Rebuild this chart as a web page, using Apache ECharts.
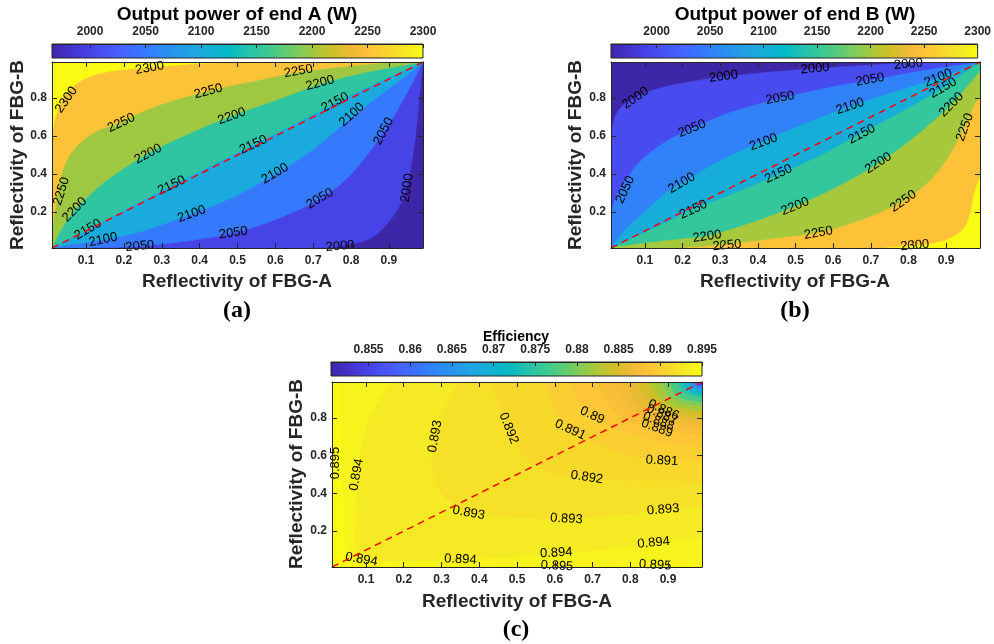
<!DOCTYPE html>
<html><head><meta charset="utf-8">
<script src="https://cdn.jsdelivr.net/npm/echarts@6/dist/echarts.min.js"></script>
<style>html,body{margin:0;padding:0;background:#fff}#chart{width:994px;height:644px}</style>
</head><body><div id="chart"></div><script>
// ---------- axis data ----------
const xTicks = [0.1, 0.2, 0.3, 0.4, 0.5, 0.6, 0.7, 0.8, 0.9];
const yTicks = [0.2, 0.4, 0.6, 0.8];
const axisRange = [0.01, 0.99];
const diagonal = [[0.01, 0.01], [0.99, 0.99]];

// ---------- colour bar data ----------
const climA = [1965.7, 2300];
const climB = [1957.3, 2300];
const climC = [0.8505, 0.895];
const cbarTicksAB = [2000, 2050, 2100, 2150, 2200, 2250, 2300];
const cbarTicksC = [0.855, 0.86, 0.865, 0.87, 0.875, 0.88, 0.885, 0.89, 0.895];

// ---------- (a) contour lines ----------
const A2000 = [[0.70,0.01],[0.771,0.02],[0.85,0.06],[0.90,0.15],[0.935,0.26],[0.955,0.40],[0.97,0.60],[0.98,0.80],[0.99,0.99]];
const A2050 = [[0.12,0.01],[0.242,0.02],[0.36,0.045],[0.489,0.09],[0.60,0.16],[0.718,0.27],[0.80,0.40],[0.886,0.62],[0.94,0.80],[0.99,0.99]];
const A2100 = [[0.01,0.01],[0.06,0.028],[0.145,0.055],[0.25,0.10],[0.379,0.19],[0.49,0.28],[0.60,0.40],[0.70,0.53],[0.802,0.70],[0.88,0.82],[0.94,0.91],[0.99,0.99]];
const A2150 = [[0.01,0.01],[0.105,0.11],[0.20,0.21],[0.326,0.34],[0.44,0.455],[0.542,0.556],[0.65,0.665],[0.758,0.775],[0.87,0.885],[0.99,0.99]];
const A2200 = [[0.01,0.01],[0.026,0.08],[0.048,0.15],[0.07,0.212],[0.11,0.291],[0.163,0.379],[0.264,0.51],[0.365,0.607],[0.485,0.707],[0.604,0.791],[0.718,0.874],[0.842,0.937],[0.99,0.99]];
const A2250 = [[0.01,0.115],[0.02,0.238],[0.03,0.361],[0.048,0.467],[0.079,0.554],[0.127,0.625],[0.193,0.677],[0.295,0.765],[0.423,0.839],[0.56,0.897],[0.661,0.937],[0.798,0.97],[0.912,0.99]];
const A2300 = [[0.01,0.60],[0.014,0.66],[0.022,0.72],[0.039,0.80],[0.066,0.862],[0.105,0.909],[0.163,0.941],[0.268,0.962],[0.365,0.978],[0.471,0.99]];

// ---------- (b) contour lines ----------
const B2000 = [[0.01,0.589],[0.017,0.677],[0.035,0.748],[0.075,0.804],[0.141,0.853],[0.229,0.888],[0.309,0.911],[0.433,0.937],[0.552,0.955],[0.68,0.972],[0.80,0.983],[0.90,0.99]];
const B2050 = [[0.01,0.194],[0.026,0.291],[0.048,0.361],[0.088,0.467],[0.15,0.563],[0.225,0.639],[0.335,0.73],[0.459,0.797],[0.583,0.853],[0.698,0.892],[0.83,0.941],[0.99,0.99]];
const B2100 = [[0.01,0.01],[0.03,0.06],[0.06,0.13],[0.10,0.20],[0.15,0.29],[0.198,0.352],[0.30,0.47],[0.415,0.572],[0.53,0.67],[0.645,0.755],[0.76,0.83],[0.879,0.905],[0.99,0.99]];
const B2150 = [[0.01,0.01],[0.10,0.09],[0.229,0.212],[0.34,0.30],[0.455,0.396],[0.57,0.50],[0.676,0.615],[0.79,0.735],[0.892,0.853],[0.99,0.99]];
const B2200 = [[0.01,0.01],[0.10,0.035],[0.20,0.058],[0.265,0.072],[0.38,0.14],[0.499,0.229],[0.61,0.33],[0.72,0.455],[0.82,0.60],[0.914,0.765],[0.96,0.87],[0.99,0.94]];
const B2250 = [[0.20,0.01],[0.30,0.025],[0.43,0.055],[0.561,0.09],[0.68,0.16],[0.786,0.255],[0.86,0.37],[0.91,0.50],[0.95,0.65],[0.975,0.76],[0.99,0.80]];
const B2300 = [[0.74,0.01],[0.817,0.022],[0.88,0.04],[0.92,0.07],[0.95,0.12],[0.965,0.20],[0.975,0.30],[0.99,0.38]];

// ---------- (c) contour lines ----------
const C0895 = [[0.03,0.99],[0.035,0.70],[0.04,0.40],[0.045,0.15],[0.05,0.07],[0.07,0.035],[0.10,0.028],[0.30,0.02],[0.60,0.015],[0.86,0.022],[0.99,0.03]];
const C0894 = [[0.164,0.99],[0.14,0.90],[0.10,0.75],[0.08,0.50],[0.074,0.30],[0.072,0.15],[0.076,0.08],[0.09,0.052],[0.15,0.043],[0.35,0.05],[0.604,0.08],[0.862,0.135],[0.99,0.17]];
const C0893 = [[0.345,0.99],[0.31,0.85],[0.283,0.702],[0.274,0.55],[0.29,0.43],[0.33,0.345],[0.372,0.295],[0.50,0.272],[0.631,0.267],[0.76,0.285],[0.887,0.316],[0.99,0.335]];
const C0892 = [[0.429,0.99],[0.455,0.86],[0.478,0.745],[0.505,0.64],[0.54,0.56],[0.60,0.505],[0.685,0.483],[0.80,0.47],[0.99,0.464]];
const C0891 = [[0.57,0.99],[0.60,0.85],[0.641,0.737],[0.69,0.672],[0.738,0.64],[0.80,0.60],[0.884,0.574],[0.99,0.568]];
const C0890 = [[0.641,0.99],[0.665,0.88],[0.699,0.814],[0.74,0.76],[0.782,0.728],[0.88,0.675],[0.99,0.649]];
const C0889 = [[0.712,0.99],[0.749,0.85],[0.793,0.792],[0.851,0.748],[0.99,0.71]];
const C0888 = [[0.757,0.99],[0.788,0.871],[0.825,0.822],[0.874,0.784],[0.99,0.752]];
const C0887 = [[0.791,0.99],[0.818,0.885],[0.849,0.841],[0.89,0.807],[0.99,0.779]];
const C0886 = [[0.818,0.99],[0.841,0.895],[0.868,0.856],[0.904,0.825],[0.99,0.80]];
const C0885 = [[0.839,0.99],[0.859,0.905],[0.883,0.871],[0.915,0.844],[0.99,0.821]];
const C0884 = [[0.858,0.99],[0.876,0.914],[0.897,0.882],[0.924,0.858],[0.99,0.837]];
const C0882 = [[0.884,0.99],[0.898,0.927],[0.915,0.90],[0.937,0.88],[0.99,0.863]];
const C0880 = [[0.905,0.99],[0.916,0.937],[0.93,0.915],[0.948,0.898],[0.99,0.884]];
const C0877 = [[0.926,0.99],[0.935,0.95],[0.945,0.934],[0.958,0.922],[0.99,0.911]];
const C0874 = [[0.942,0.99],[0.948,0.958],[0.956,0.945],[0.966,0.935],[0.99,0.927]];
const C0870 = [[0.958,0.99],[0.962,0.969],[0.967,0.96],[0.974,0.954],[0.99,0.948]];
const C0865 = [[0.969,0.99],[0.972,0.977],[0.975,0.972],[0.98,0.967],[0.99,0.964]];
const C0860 = [[0.979,0.99],[0.98,0.982],[0.982,0.979],[0.985,0.976],[0.99,0.974]];
const C0855 = [[0.985,0.99],[0.986,0.986],[0.988,0.984],[0.99,0.983]];

// ---------- contour labels [x, y, value, angle] ----------
const labelsA = [
  [0.268,0.958,2300,10],[0.048,0.791,2300,55],
  [0.035,0.309,2250,72],[0.193,0.669,2250,25],[0.423,0.835,2250,15],[0.661,0.941,2250,10],
  [0.07,0.212,2200,45],[0.264,0.505,2200,28],[0.485,0.704,2200,20],[0.718,0.879,2200,15],
  [0.105,0.107,2150,30],[0.326,0.34,2150,25],[0.542,0.554,2150,25],[0.758,0.777,2150,28],
  [0.145,0.054,2100,12],[0.379,0.189,2100,20],[0.599,0.402,2100,30],[0.802,0.712,2100,42],
  [0.242,0.019,2050,5],[0.489,0.089,2050,8],[0.718,0.27,2050,30],[0.886,0.625,2050,62],
  [0.771,0.019,2000,5],[0.948,0.326,2000,82]
];
const labelsB = [
  [0.075,0.80,2000,35],[0.309,0.914,2000,8],[0.552,0.955,2000,5],[0.80,0.979,2000,5],
  [0.048,0.317,2050,65],[0.225,0.639,2050,22],[0.459,0.80,2050,10],[0.698,0.897,2050,10],
  [0.198,0.352,2100,30],[0.415,0.568,2100,20],[0.645,0.756,2100,18],[0.879,0.906,2100,22],
  [0.229,0.212,2150,25],[0.455,0.40,2150,25],[0.676,0.61,2150,28],[0.892,0.853,2150,30],
  [0.265,0.071,2200,8],[0.499,0.229,2200,22],[0.72,0.458,2200,32],[0.914,0.765,2200,45],
  [0.318,0.024,2250,5],[0.561,0.089,2250,10],[0.786,0.256,2250,35],[0.95,0.646,2250,70],
  [0.817,0.024,2300,5]
];
const labelsC = [
  [0.018,0.561,0.895,90],[0.075,0.499,0.894,80],[0.088,0.05,0.894,-10],
  [0.283,0.702,0.893,80],[0.372,0.297,0.893,-10],[0.478,0.745,0.892,-68],
  [0.641,0.737,0.891,-25],[0.699,0.813,0.89,-25],[0.685,0.485,0.892,-8],
  [0.884,0.573,0.891,-3],[0.631,0.265,0.893,-3],[0.887,0.314,0.893,5],
  [0.862,0.138,0.894,5],[0.604,0.085,0.894,3],[0.35,0.05,0.894,-3],
  [0.606,0.015,0.895,-3],[0.866,0.02,0.895,-3],
  [0.888,0.842,0.886,-25],[0.884,0.816,0.887,-25],[0.875,0.781,0.888,-20],[0.871,0.745,0.889,-20]
];

// ---------- contour sets ----------
const TL = [0.01,0.99], BL = [0.01,0.01], TR = [0.99,0.99], BR = [0.99,0.01];
const contoursA = [
  {level:2000, pts:A2000, close:[TL,BL]}, {level:2050, pts:A2050, close:[TL,BL]},
  {level:2100, pts:A2100, close:[TL]}, {level:2150, pts:A2150, close:[TL]},
  {level:2200, pts:A2200, close:[TL]}, {level:2250, pts:A2250, close:[TL]},
  {level:2300, pts:A2300, close:[TL]}
];
const contoursB = [
  {level:2000, pts:B2000, close:[TR,BR,BL]}, {level:2050, pts:B2050, close:[BR,BL]},
  {level:2100, pts:B2100, close:[BR]}, {level:2150, pts:B2150, close:[BR]},
  {level:2200, pts:B2200, close:[BR]}, {level:2250, pts:B2250, close:[BR]},
  {level:2300, pts:B2300, close:[BR]}
];
const contoursC = [
  [0.895,C0895],[0.894,C0894],[0.893,C0893],[0.892,C0892],[0.891,C0891],[0.890,C0890],
  [0.889,C0889],[0.888,C0888],[0.887,C0887],[0.886,C0886],[0.885,C0885],[0.884,C0884],
  [0.882,C0882],[0.880,C0880],[0.877,C0877],[0.874,C0874],[0.870,C0870],[0.865,C0865],
  [0.860,C0860],[0.855,C0855]
].map(d => ({level:d[0], pts:d[1], close:[TR]}));

// ---------- colormap (parula) ----------
const parula = ['#3e26a8','#4332cb','#4741e5','#4852f4','#4563fd','#3875fe','#2e87f7','#2796eb',
  '#20a5e2','#12b1d6','#02bac3','#24c1ae','#37c897','#57cc7a','#81cc59','#abc739','#d1bf27',
  '#efba36','#fec338','#f9d62d','#f5e924','#f9fb14'];

const FULL = [[0.01,0.01],[0.99,0.01],[0.99,0.99],[0.01,0.99]];
function fillsAbove(clim, cs) {           // regions >= level
  const items = [{fill: clim[0], pts: FULL, close: [], smooth: false}];
  cs.forEach(c => items.push({fill: c.level, pts: c.pts, close: c.close, smooth: true}));
  return items;
}
function fillsBelow(clim, cs) {           // regions < level (levels descending)
  const items = [{fill: cs[0].level, pts: FULL, close: [], smooth: false}];
  cs.forEach((c, i) => items.push({fill: i + 1 < cs.length ? cs[i + 1].level : clim[0], pts: c.pts, close: c.close, smooth: true}));
  return items;
}
const fillA = fillsAbove(climA, contoursA);
const fillB = fillsAbove(climB, contoursB);
const fillC = fillsBelow(climC, contoursC);

function pathOf(api, item) {
  const P = item.pts.map(p => api.coord(p));
  let d = 'M' + P[0][0] + ' ' + P[0][1];
  if (item.smooth && P.length > 2) {
    for (let i = 0; i < P.length - 1; i++) {
      const p0 = P[i - 1] || P[i], p1 = P[i], p2 = P[i + 1], p3 = P[i + 2] || P[i + 1];
      const c1 = [p1[0] + (p2[0] - p0[0]) / 6, p1[1] + (p2[1] - p0[1]) / 6];
      const c2 = [p2[0] - (p3[0] - p1[0]) / 6, p2[1] - (p3[1] - p1[1]) / 6];
      d += ' C' + c1[0] + ' ' + c1[1] + ' ' + c2[0] + ' ' + c2[1] + ' ' + p2[0] + ' ' + p2[1];
    }
  } else {
    for (let i = 1; i < P.length; i++) d += ' L' + P[i][0] + ' ' + P[i][1];
  }
  item.close.forEach(p => { const q = api.coord(p); d += ' L' + q[0] + ' ' + q[1]; });
  return d + ' Z';
}

const FONT = '"Liberation Sans", Arial, Helvetica, sans-serif';
const AXC = '#262626';

function fillSeries(items, gi) {
  return {
    type: 'custom', xAxisIndex: gi * 2, yAxisIndex: gi * 2, clip: true, silent: true, z: 1,
    data: items.map((it, i) => [it.fill, i]),
    renderItem: function (params, api) {
      const it = items[api.value(1)];
      const col = api.visual('color');
      return {type: 'path', shape: {pathData: pathOf(api, it)}, style: {fill: col, stroke: col, lineWidth: 0.6}};
    }
  };
}
function labelSeries(labels, gi) {
  return {
    type: 'custom', xAxisIndex: gi * 2, yAxisIndex: gi * 2, clip: false, silent: true, z: 4,
    data: labels,
    renderItem: function (params, api) {
      const p = api.coord([api.value(0), api.value(1)]);
      return {type: 'text', x: p[0], y: p[1], rotation: api.value(3) * Math.PI / 180,
        style: {text: String(api.value(2)), fill: '#000', font: '13px ' + FONT, align: 'center', verticalAlign: 'middle'}};
    }
  };
}
function diagSeries(gi) {
  return {type: 'line', xAxisIndex: gi * 2, yAxisIndex: gi * 2, data: diagonal, symbol: 'none', silent: true, z: 5,
    lineStyle: {color: '#ff0000', width: 1.5, type: [7, 5]}};
}
function cbarSeries(clim, ci) {
  const stops = parula.map((c, i) => ({offset: i / (parula.length - 1), color: c}));
  return {
    type: 'custom', xAxisIndex: 6 + ci, yAxisIndex: 6 + ci, silent: true, z: 1,
    data: [[clim[0], clim[1]]],
    renderItem: function (params, api) {
      const p0 = api.coord([api.value(0), 0]), p1 = api.coord([api.value(1), 1]);
      const shape = {x: p0[0], y: p1[1], width: p1[0] - p0[0], height: p0[1] - p1[1]};
      return {type: 'group', children: [
        {type: 'rect', shape: shape, style: {fill: {type: 'linear', x: 0, y: 0, x2: 1, y2: 0, colorStops: stops}}},
        {type: 'rect', shape: shape, style: {fill: 'none', stroke: AXC, lineWidth: 1}}
      ]};
    }
  };
}

// ---------- layout ----------
const plots = [
  {left: 52, top: 62, width: 371, height: 186},
  {left: 611, top: 62, width: 369, height: 186},
  {left: 332, top: 382, width: 370, height: 185}
];
const cbars = [
  {left: 52, top: 44, width: 371, height: 14},
  {left: 611, top: 44, width: 369, height: 14},
  {left: 331, top: 362, width: 371, height: 14}
];
const grids = plots.concat(cbars).map(g => Object.assign({containLabel: false}, g));

const lbl = {color: AXC, fontWeight: 'bold', fontSize: 12, fontFamily: FONT};
const xAxes = [], yAxes = [];
plots.forEach((p, gi) => {
  const line = {show: true, onZero: false, lineStyle: {color: AXC, width: 1}};
  const tickX = {show: true, inside: true, length: 5, customValues: xTicks, lineStyle: {color: AXC}};
  const tickY = {show: true, inside: true, length: 5, customValues: yTicks, lineStyle: {color: AXC}};
  xAxes.push({type: 'value', gridIndex: gi, min: axisRange[0], max: axisRange[1], position: 'bottom', z: 10,
    axisLine: line, axisTick: tickX, splitLine: {show: false},
    axisLabel: Object.assign({customValues: xTicks, margin: 7, formatter: v => v.toFixed(1)}, lbl)});
  xAxes.push({type: 'value', gridIndex: gi, min: axisRange[0], max: axisRange[1], position: 'top', z: 10,
    axisLine: line, axisTick: tickX, splitLine: {show: false}, axisLabel: {show: false}});
  yAxes.push({type: 'value', gridIndex: gi, min: axisRange[0], max: axisRange[1], position: 'left', z: 10,
    axisLine: line, axisTick: tickY, splitLine: {show: false},
    axisLabel: Object.assign({customValues: yTicks, margin: 5, formatter: v => v.toFixed(1)}, lbl)});
  yAxes.push({type: 'value', gridIndex: gi, min: axisRange[0], max: axisRange[1], position: 'right', z: 10,
    axisLine: line, axisTick: tickY, splitLine: {show: false}, axisLabel: {show: false}});
});
[[climA, cbarTicksAB], [climB, cbarTicksAB], [climC, cbarTicksC]].forEach((c, ci) => {
  xAxes.push({type: 'value', gridIndex: 3 + ci, min: c[0][0], max: c[0][1], position: 'top', z: 10,
    axisLine: {show: true, onZero: false, lineStyle: {color: AXC}},
    axisTick: {show: true, inside: true, length: 4, customValues: c[1], lineStyle: {color: AXC}},
    splitLine: {show: false},
    axisLabel: Object.assign({customValues: c[1], margin: 6, formatter: v => String(v)}, lbl)});
  yAxes.push({type: 'value', gridIndex: 3 + ci, min: 0, max: 1, show: false});
});

const series = [
  fillSeries(fillA, 0), labelSeries(labelsA, 0), diagSeries(0),
  fillSeries(fillB, 1), labelSeries(labelsB, 1), diagSeries(1),
  fillSeries(fillC, 2), labelSeries(labelsC, 2), diagSeries(2),
  cbarSeries(climA, 0), cbarSeries(climB, 1), cbarSeries(climC, 2)
];

function txt(text, x, y, font, rot, color) {
  return {type: 'text', x: x, y: y, rotation: rot || 0, silent: true,
    style: {text: text, font: font, fill: color || AXC, align: 'center', verticalAlign: 'middle'}};
}
const TF = 'bold 19px ' + FONT;
const SERIF = 'bold 24px "Liberation Serif", "Times New Roman", serif';
const graphics = [
  txt('Output power of end A (W)', 237, 15, TF, 0, '#000'),
  txt('Output power of end B (W)', 795, 15, TF, 0, '#000'),
  txt('Efficiency', 516, 337, 'bold 14px ' + FONT, 0, '#000'),
  txt('Reflectivity of FBG-A', 237, 282, TF),
  txt('Reflectivity of FBG-A', 795, 282, TF),
  txt('Reflectivity of FBG-A', 517, 602, TF),
  txt('Reflectivity of FBG-B', 18, 155, TF, Math.PI / 2),
  txt('Reflectivity of FBG-B', 576, 155, TF, Math.PI / 2),
  txt('Reflectivity of FBG-B', 297, 474, TF, Math.PI / 2),
  txt('(a)', 237, 311, SERIF, 0, '#000'),
  txt('(b)', 795, 311, SERIF, 0, '#000'),
  txt('(c)', 516, 630, SERIF, 0, '#000')
];

const chart = echarts.init(document.getElementById('chart'), null, {renderer: 'canvas'});
chart.setOption({
  animation: false,
  backgroundColor: '#ffffff',
  grid: grids,
  xAxis: xAxes,
  yAxis: yAxes,
  visualMap: [
    {type: 'continuous', show: false, min: climA[0], max: climA[1], dimension: 0, seriesIndex: 0, inRange: {color: parula}},
    {type: 'continuous', show: false, min: climB[0], max: climB[1], dimension: 0, seriesIndex: 3, inRange: {color: parula}},
    {type: 'continuous', show: false, min: climC[0], max: climC[1], dimension: 0, seriesIndex: 6, inRange: {color: parula}}
  ],
  series: series,
  graphic: graphics
});
</script></body></html>
